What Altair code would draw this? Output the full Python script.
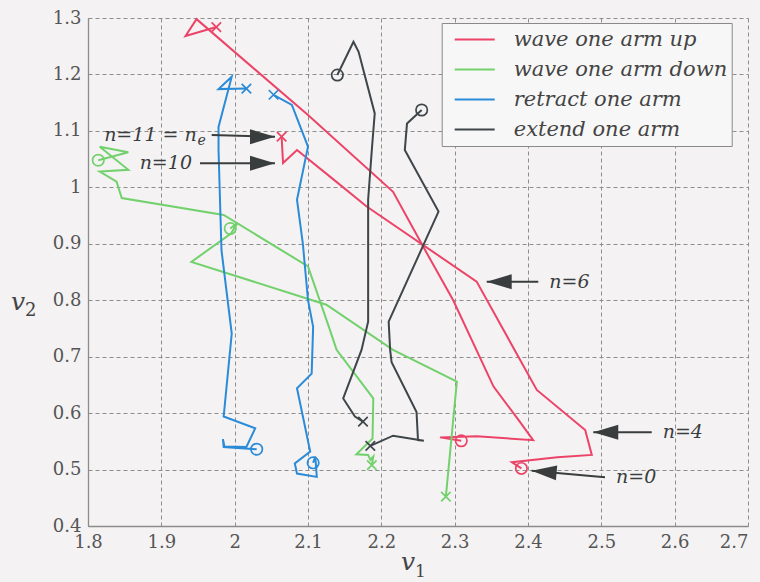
import altair as alt
import pandas as pd

# ---------------------------------------------------------------- data
GESTURES = ["wave one arm up", "wave one arm down", "retract one arm", "extend one arm"]
COLORS = ["#ec4468", "#72d16c", "#2a8bd8", "#3e4649"]

X_TICKS = [1.8, 1.9, 2.0, 2.1, 2.2, 2.3, 2.4, 2.5, 2.6, 2.7]
Y_TICKS = [0.4, 0.5, 0.6, 0.7, 0.8, 0.9, 1.0, 1.1, 1.2, 1.3]

# wave one arm up, trajectory 1 (n = 0 ... 11)
UP_1_V1 = [2.391, 2.378, 2.440, 2.487, 2.478, 2.412, 2.330, 2.180, 2.130, 2.085, 2.066, 2.064]
UP_1_V2 = [0.502, 0.513, 0.522, 0.526, 0.570, 0.641, 0.833, 0.966, 1.019, 1.066, 1.043, 1.090]
# wave one arm up, trajectory 2
UP_2_V1 = [2.309, 2.280, 2.330, 2.407, 2.387, 2.353, 2.298, 2.257, 2.216, 2.100, 1.948, 1.933, 1.975]
UP_2_V2 = [0.551, 0.557, 0.559, 0.552, 0.588, 0.647, 0.800, 0.895, 0.992, 1.128, 1.298, 1.268, 1.284]

# wave one arm down
DOWN_1_V1 = [1.814, 1.855, 1.816, 1.855, 1.816, 1.839, 1.846, 1.985, 2.100, 2.130, 2.139, 2.189,
             2.188, 2.166, 2.182, 2.185, 2.189, 2.187]
DOWN_1_V2 = [1.048, 1.062, 1.072, 1.031, 1.028, 1.010, 0.981, 0.951, 0.860, 0.747, 0.712, 0.626,
             0.555, 0.527, 0.526, 0.517, 0.523, 0.508]
DOWN_2_V1 = [1.994, 2.004, 1.995, 1.941, 2.125, 2.216, 2.303, 2.288]
DOWN_2_V2 = [0.927, 0.937, 0.918, 0.868, 0.792, 0.712, 0.656, 0.452]

# retract one arm
RET_1_V1 = [2.030, 1.985, 1.984, 1.986, 2.016, 2.028, 1.985, 1.996, 1.982, 1.978, 1.978, 1.996,
            1.978, 2.016]
RET_1_V2 = [0.536, 0.540, 0.554, 0.541, 0.540, 0.573, 0.594, 0.741, 0.889, 1.066, 1.107, 1.196,
            1.174, 1.175]
RET_2_V1 = [2.107, 2.110, 2.112, 2.085, 2.082, 2.103, 2.085, 2.105, 2.107, 2.100, 2.093, 2.085,
            2.100, 2.078, 2.053]
RET_2_V2 = [0.512, 0.523, 0.487, 0.493, 0.511, 0.532, 0.644, 0.670, 0.753, 0.800, 0.900, 0.978,
            1.072, 1.146, 1.164]

# extend one arm
EXT_1_V1 = [2.140, 2.162, 2.169, 2.191, 2.187, 2.182, 2.182, 2.173, 2.148, 2.164, 2.175]
EXT_1_V2 = [1.199, 1.258, 1.240, 1.131, 1.066, 0.978, 0.762, 0.712, 0.626, 0.594, 0.585]
EXT_2_V1 = [2.255, 2.235, 2.232, 2.278, 2.210, 2.212, 2.214, 2.248, 2.250, 2.258, 2.216, 2.185]
EXT_2_V2 = [1.137, 1.113, 1.066, 0.957, 0.762, 0.712, 0.690, 0.602, 0.552, 0.551, 0.560, 0.542]

# time-index call-outs: arrow tail and tip (data units)
ANN_LABELS = ["n=11 = n", "n=10", "n=6", "n=4", "n=0"]
ANN_TAIL_V1 = [1.9687, 1.9527, 2.414, 2.5687, 2.505]
ANN_TAIL_V2 = [1.0927, 1.0426, 0.8328, 0.566, 0.4863]
ANN_TIP_V1 = [2.055, 2.055, 2.3437, 2.489, 2.405]
ANN_TIP_V2 = [1.0897, 1.0426, 0.8328, 0.566, 0.498]
ANN_ANGLE = [0, 0, 180, 180, 185]

# ---------------------------------------------------------------- tables
trajectories = [
    (GESTURES[0], UP_1_V1, UP_1_V2),
    (GESTURES[0], UP_2_V1, UP_2_V2),
    (GESTURES[1], DOWN_1_V1, DOWN_1_V2),
    (GESTURES[1], DOWN_2_V1, DOWN_2_V2),
    (GESTURES[2], RET_1_V1, RET_1_V2),
    (GESTURES[2], RET_2_V1, RET_2_V2),
    (GESTURES[3], EXT_1_V1, EXT_1_V2),
    (GESTURES[3], EXT_2_V1, EXT_2_V2),
]
rows, starts, ends = [], [], []
for k, (g, xs, ys) in enumerate(trajectories):
    for i, (a, b) in enumerate(zip(xs, ys)):
        rows.append({"gesture": g, "traj": k, "step": i, "v1": a, "v2": b})
    starts.append({"gesture": g, "v1": xs[0], "v2": ys[0]})
    ends.append({"gesture": g, "v1": xs[-1], "v2": ys[-1]})
traj_df = pd.DataFrame(rows)
start_df = pd.DataFrame(starts)
end_df = pd.DataFrame(ends)

ann_df = pd.DataFrame({
    "label": ANN_LABELS,
    "xt": ANN_TAIL_V1, "yt": ANN_TAIL_V2,
    "xh": ANN_TIP_V1, "yh": ANN_TIP_V2,
    "ang": ANN_ANGLE,
})

# ---------------------------------------------------------------- styling
SERIF = "DejaVu Serif"
INK = "#3a3d3e"
x_scale = alt.Scale(domain=[1.8, 2.7], nice=False, zero=False)
y_scale = alt.Scale(domain=[0.4, 1.3], nice=False, zero=False)
color_scale = alt.Scale(domain=GESTURES, range=COLORS)

# the rightmost x label is pulled inside the page edge
X_LABEL_ALIGN = {"condition": {"test": "datum.value >= 2.69", "value": "right"}, "value": "center"}


def xenc(field):
    return alt.X(field, type="quantitative", scale=x_scale,
                 axis=alt.Axis(values=X_TICKS, format=".1~f", title=None,
                               labelAlign=X_LABEL_ALIGN))


def yenc(field):
    return alt.Y(field, type="quantitative", scale=y_scale,
                 axis=alt.Axis(values=Y_TICKS, format=".1~f", title=None))


legend = alt.Legend(
    title=None, orient="none", legendX=353.7, legendY=5,
    symbolType="stroke", symbolSize=1600, symbolStrokeWidth=2, symbolOpacity=1,
    symbolOffset=8, clipHeight=25, rowPadding=5, padding=4,
    labelOffset=18, labelFont=SERIF, labelFontStyle="italic", labelFontSize=21,
    labelColor="#444444", labelLimit=400,
    strokeColor="#8a8a8a", fillColor="#f8f7f7", cornerRadius=0,
)

lines = alt.Chart(traj_df).mark_line(strokeWidth=2, strokeJoin="miter").encode(
    x=xenc("v1"), y=yenc("v2"),
    color=alt.Color("gesture:N", scale=color_scale, legend=legend),
    detail="traj:N",
    order="step:Q",
)

CROSS = "M -1 -1 L 1 1 M -1 1 L 1 -1"
start_marks = alt.Chart(start_df).mark_point(
    shape="circle", filled=False, size=130, strokeWidth=1.7, opacity=1
).encode(
    x=xenc("v1"), y=yenc("v2"),
    color=alt.Color("gesture:N", scale=color_scale, legend=None),
)
end_marks = alt.Chart(end_df).mark_point(
    shape=CROSS, filled=False, size=90, strokeWidth=1.7, opacity=1
).encode(
    x=xenc("v1"), y=yenc("v2"),
    color=alt.Color("gesture:N", scale=color_scale, legend=None),
)

# call-out arrows
shafts = alt.Chart(ann_df).mark_rule(color=INK, strokeWidth=2).encode(
    x=xenc("xt"), y=yenc("yt"), x2="xh:Q", y2="yh:Q"
)
HEAD = "M 0 0 L -2 -0.6 L -2 0.6 Z"
heads = alt.Chart(ann_df).mark_point(
    shape=HEAD, filled=True, size=625, color=INK, opacity=1, strokeWidth=0
).encode(
    x=xenc("xh"), y=yenc("yh"),
    angle=alt.Angle("ang:Q", scale=None),
)

text_style = dict(font=SERIF, fontStyle="italic", fontSize=19, color=INK, baseline="middle")
labels_right = alt.Chart(ann_df).transform_filter(
    alt.FieldOneOfPredicate(field="label", oneOf=["n=6", "n=4", "n=0"])
).mark_text(align="left", dx=11, **text_style).encode(
    x=xenc("xt"), y=yenc("yt"), text="label:N")
label_n10 = alt.Chart(ann_df).transform_filter(
    alt.datum.label == "n=10"
).mark_text(align="right", dx=-8, **text_style).encode(
    x=xenc("xt"), y=yenc("yt"), text="label:N")
label_n11 = alt.Chart(ann_df).transform_filter(
    alt.datum.label == "n=11 = n"
).mark_text(align="right", dx=-15, **text_style).encode(
    x=xenc("xt"), y=yenc("yt"), text="label:N")
label_n11_sub = alt.Chart(ann_df).transform_filter(
    alt.datum.label == "n=11 = n"
).transform_calculate(sub="'e'").mark_text(
    align="right", dx=-6, dy=6, font=SERIF, fontStyle="italic", fontSize=14,
    color=INK, baseline="middle"
).encode(x=xenc("xt"), y=yenc("yt"), text="sub:N")


# axis titles v1 / v2 with subscripts
def glyph(txt, px, py, size, italic=True):
    return alt.Chart(pd.DataFrame({"t": [txt]})).mark_text(
        font=SERIF, fontStyle="italic" if italic else "normal", fontSize=size,
        color="#444444", align="left", baseline="alphabetic"
    ).encode(x=alt.value(px), y=alt.value(py), text="t:N")


titles = [
    glyph("v", 313, 552, 25), glyph("1", 327, 559, 17, italic=False),
    glyph("v", -77, 292, 25), glyph("2", -63, 298, 18, italic=False),
]

chart = alt.layer(
    lines, start_marks, end_marks, shafts, heads,
    labels_right, label_n10, label_n11, label_n11_sub, *titles
).properties(
    width=660, height=508,
    autosize=alt.AutoSizeParams(type="none"),
    padding={"left": 88, "top": 18, "right": 12, "bottom": 56},
    background="#f4f2f3",
).configure_view(
    stroke=None
).configure_axis(
    grid=True, gridColor="#8e8e8e", gridDash=[4, 3], gridWidth=1, gridOpacity=1,
    domain=True, domainColor="#8c8c8c", domainWidth=1.3, ticks=False,
    labelFont=SERIF, labelFontSize=18, labelColor="#555555",
    labelFlush=False, labelOverlap=False, labelPadding=7,
)

chart.save("out.html", embed_options={"renderer": "svg", "actions": False})
